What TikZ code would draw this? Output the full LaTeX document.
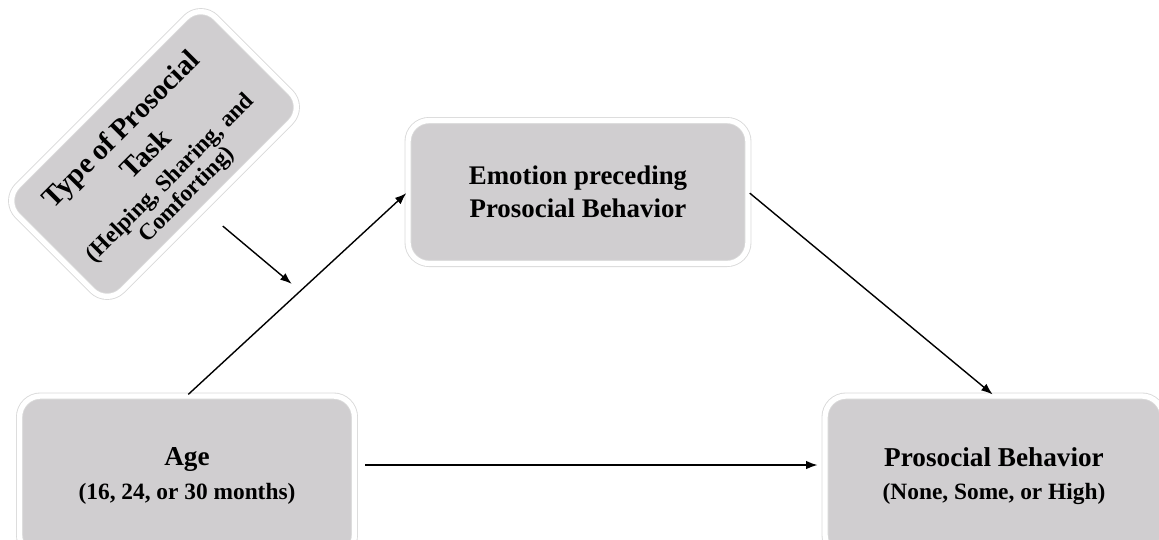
\documentclass[tikz,border=0pt]{standalone}
\usepackage{fontspec}
\usetikzlibrary{arrows.meta}
\setmainfont{Liberation Serif}
\definecolor{boxgray}{RGB}{208,206,208}
\tikzset{
  factor/.style={rounded corners=12pt, fill=boxgray, draw=black!15, line width=0.5pt,
    double=white, double distance=3pt, align=center, inner sep=4pt},
  link/.style={-{Latex[length=2.3mm,width=1.7mm]}, thick, shorten >=1pt, shorten <=1pt}
}
\newcommand{\titlefont}{\fontsize{16.4}{20}\selectfont}
\newcommand{\subfont}{\fontsize{13.3}{14}\selectfont}
\begin{document}
\begin{tikzpicture}[x=0.02cm,y=-0.02cm]
\useasboundingbox (0,0) rectangle (1159,539);
% boxes
\node[factor, minimum width=5.6cm, minimum height=2.95cm, rotate=45] (task) at (154,154) {};
\node[rotate=45, align=center, text width=5.2cm, inner sep=0pt, font=\bfseries]
  (tasktext) at ([shift={(0cm,-0.16cm)}]task.center)
  {\titlefont Type of Prosocial\\Task\par\vspace{4pt}
   \subfont (Helping, Sharing, and\\Comforting)};
\node[factor, minimum width=6.8cm, minimum height=2.86cm,
  font=\fontsize{15.3}{19}\selectfont\bfseries] (emotion) at (578,192)
  {Emotion preceding\\Prosocial Behavior};
\node[factor, minimum width=6.7cm, minimum height=3.2cm,
  font=\fontsize{15.5}{19}\selectfont\bfseries] (age) at (187,476)
  {Age\\\subfont (16, 24, or 30 months)};
\node[factor, minimum width=6.76cm, minimum height=3.2cm,
  font=\fontsize{15.5}{19}\selectfont\bfseries] (behavior) at (994,476)
  {Prosocial Behavior\\\subfont (None, Some, or High)};
% paths
\coordinate (moderate) at (293,285);
\draw[link] ([shift={(0.3cm,-0.37cm)}]task.south) -- (moderate);
\draw[link] (age.north) -- (emotion.west);
\draw[link] (emotion.east) -- (behavior.north);
\draw[link, shorten <=6pt, shorten >=4pt] ([yshift=0.22cm]age.east) -- ([yshift=0.22cm]behavior.west);
\end{tikzpicture}
\end{document}
